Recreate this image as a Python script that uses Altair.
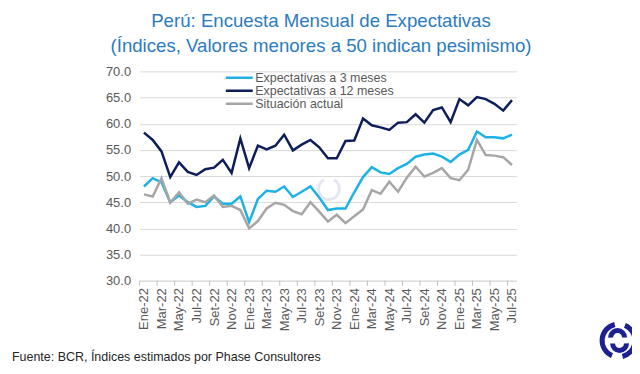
import json
import altair as alt
import pandas as pd

months = ["Ene-22", "Feb-22", "Mar-22", "Abr-22", "May-22", "Jun-22", "Jul-22", "Ago-22", "Set-22", "Oct-22", "Nov-22", "Dic-22",
          "Ene-23", "Feb-23", "Mar-23", "Abr-23", "May-23", "Jun-23", "Jul-23", "Ago-23", "Set-23", "Oct-23", "Nov-23", "Dic-23",
          "Ene-24", "Feb-24", "Mar-24", "Abr-24", "May-24", "Jun-24", "Jul-24", "Ago-24", "Set-24", "Oct-24", "Nov-24", "Dic-24",
          "Ene-25", "Feb-25", "Mar-25", "Abr-25", "May-25", "Jun-25", "Jul-25"]

exp3 = [48.0, 49.6, 48.8, 45.0, 46.3, 45.0, 44.1, 44.3, 46.1, 44.7, 44.7, 46.1, 41.2, 45.6, 47.2, 47.0, 48.0, 46.0, 47.0, 48.0,
        45.9, 43.5, 43.8, 43.8, 46.9, 49.8, 51.7, 50.7, 50.4, 51.5, 52.3, 53.7, 54.1, 54.3, 53.7, 52.7, 54.1, 55.0, 58.5, 57.4,
        57.4, 57.2, 57.9]
exp12 = [58.3, 56.9, 54.7, 49.8, 52.6, 50.8, 50.2, 51.3, 51.6, 53.1, 50.6, 57.2, 51.5, 55.8, 55.1, 55.8, 57.9, 54.9, 56.0, 56.9,
         55.5, 53.4, 53.4, 56.7, 56.8, 61.0, 59.7, 59.3, 58.8, 60.2, 60.3, 61.8, 60.2, 62.6, 63.1, 60.3, 64.7, 63.5, 65.1, 64.7,
         63.8, 62.5, 64.5]
actual = [46.5, 46.1, 49.6, 44.9, 46.9, 44.7, 45.5, 45.0, 46.3, 44.1, 44.3, 43.5, 40.0, 41.4, 43.8, 44.9, 44.5, 43.3, 42.7, 45.0,
          43.2, 41.3, 42.6, 41.0, 42.3, 43.6, 47.3, 46.6, 48.9, 47.0, 49.7, 51.8, 49.9, 50.6, 51.5, 49.6, 49.2, 51.2, 56.9, 54.0,
          53.9, 53.6, 52.1]

series_names = ["Expectativas a 3 meses", "Expectativas a 12 meses", "Situación actual"]
series_colors = ["#1EB1E6", "#0E1E5B", "#A6A6A6"]
y_ticks = [30, 35, 40, 45, 50, 55, 60, 65, 70]
label_positions = list(range(0, 43, 2))
tick_positions = [p - 0.5 for p in label_positions]

title_lines = ["Perú: Encuesta Mensual de Expectativas", "(Índices, Valores menores a 50 indican pesimismo)"]
source_note = "Fuente: BCR, Índices estimados por Phase Consultores"

rows = []
for name, vals in zip(series_names, [exp3, exp12, actual]):
    for i, v in enumerate(vals):
        rows.append({"idx": i, "mes": months[i], "valor": v, "serie": name})
df = pd.DataFrame(rows)

FONT = "Liberation Sans"
W, H = 378, 210

x_scale = alt.Scale(domain=[-0.5, 42.5], nice=False, zero=False)
label_expr = json.dumps(months).replace('"', "'") + "[datum.value]"
x_axis = alt.Axis(values=label_positions, labelExpr=label_expr, labelAngle=270, ticks=False, grid=False,
                  domainColor="#D9D9D9", labelPadding=7, labelFontSize=13, labelColor="#595959",
                  labelFont=FONT, title=None, labelOverlap=False, labelFlush=False, labelBound=False)

lines = alt.Chart(df).mark_line(strokeWidth=2.5).encode(
    x=alt.X("idx:Q", scale=x_scale, axis=x_axis),
    y=alt.Y("valor:Q", scale=alt.Scale(domain=[30, 70], nice=False, zero=False),
            axis=alt.Axis(values=y_ticks, format=".1f", grid=True, gridColor="#D9D9D9", domain=False, ticks=False,
                          labelPadding=9, labelFontSize=13, labelColor="#595959", labelFont=FONT, title=None)),
    color=alt.Color("serie:N", scale=alt.Scale(domain=series_names, range=series_colors),
                    legend=alt.Legend(orient="none", legendX=85, legendY=0, title=None, symbolType="stroke",
                                      symbolSize=729, symbolStrokeWidth=2.5, labelFontSize=12.5, labelColor="#595959",
                                      labelFont=FONT, clipHeight=13, labelOffset=1, rowPadding=0, padding=0)),
    order=alt.Order("idx:Q"),
)

ticks = alt.Chart(pd.DataFrame({"pos": tick_positions})).mark_rule(color="#BFBFBF", strokeWidth=1).encode(
    x=alt.X("pos:Q", scale=x_scale, axis=x_axis),
    y=alt.value(H),
    y2=alt.value(H + 5),
)

title1 = alt.Chart(pd.DataFrame({"t": [title_lines[0]]})).mark_text(
    font=FONT, fontSize=18.7, color="#2B7BC0", align="center", baseline="alphabetic").encode(
    text="t:N", x=alt.value(182), y=alt.value(-45))
title2 = alt.Chart(pd.DataFrame({"t": [title_lines[1]]})).mark_text(
    font=FONT, fontSize=18.7, color="#2B7BC0", align="center", baseline="alphabetic").encode(
    text="t:N", x=alt.value(182), y=alt.value(-19))
note = alt.Chart(pd.DataFrame({"t": [source_note]})).mark_text(
    font=FONT, fontSize=12.5, color="#262626", align="left", baseline="alphabetic").encode(
    text="t:N", x=alt.value(-128), y=alt.value(291))

one = pd.DataFrame({"a": [1]})
LX, LY = 480.5, 270
logo_ring = alt.Chart(one).mark_arc(theta=0.4, theta2=2.9, radius=19, radius2=14, color="#1C2090").encode(
    x=alt.value(LX), y=alt.value(LY))
logo_ring2 = alt.Chart(one).mark_arc(theta=3.55, theta2=6.05, radius=19, radius2=14, color="#1C2090").encode(
    x=alt.value(LX), y=alt.value(LY))
logo_in1 = alt.Chart(one).mark_arc(theta=4.7, theta2=7.85, radius=9.5, radius2=4.5, color="#1C2090").encode(
    x=alt.value(LX - 1), y=alt.value(LY - 3))
logo_in2 = alt.Chart(one).mark_arc(theta=1.55, theta2=4.7, radius=9.5, radius2=4.5, color="#1C2090").encode(
    x=alt.value(LX + 1), y=alt.value(LY + 3))
wm = alt.Chart(one).mark_arc(theta=0.5, theta2=5.8, radius=12, radius2=9, color="#DDE0F0", opacity=0.8).encode(
    x=alt.value(190), y=alt.value(118))

chart = alt.layer(wm, lines, ticks, title1, title2, note, logo_ring, logo_ring2, logo_in1, logo_in2).properties(
    width=W, height=H,
    autosize=alt.AutoSizeParams(type="none"),
    padding={"left": 132, "top": 63, "right": 116, "bottom": 85},
    background="white",
).configure_view(stroke=None).configure_axisX(labelOverlap=False)

chart.save("out.html", embed_options={"renderer": "svg", "actions": False})
